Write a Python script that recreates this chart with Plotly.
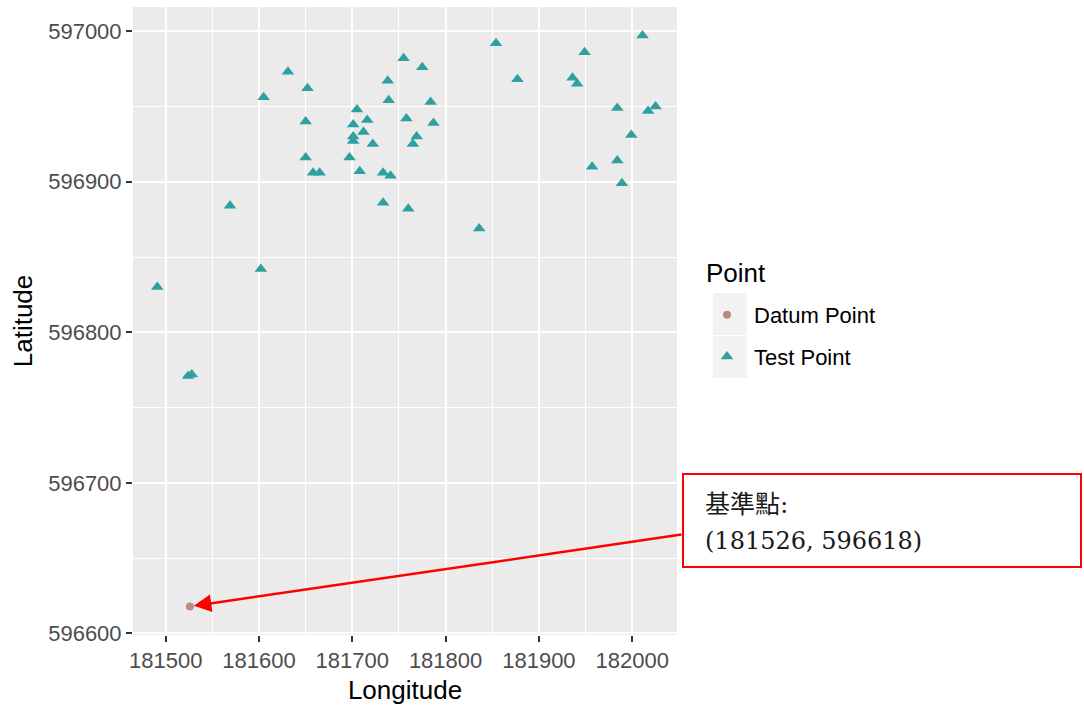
import plotly.graph_objects as go

# ---------------- data ----------------
test_lon = [181631, 181652, 181605, 181738, 181739, 181705, 181650, 181701, 181716, 181701,
            181712, 181701, 181722, 181650, 181697, 181658, 181665, 181708, 181733, 181741,
            181569, 181733, 181755, 181775, 181784, 181758, 181787, 181769, 181765, 181760,
            181836, 181854, 181877, 181949, 181936, 181941, 182011, 181984, 182017, 182025,
            181999, 181984, 181957, 181989, 181491, 181602, 181524, 181528]
test_lat = [596973, 596962, 596956, 596967, 596954, 596948, 596940, 596938, 596941, 596930,
            596933, 596927, 596925, 596916, 596916, 596906, 596906, 596907, 596906, 596904,
            596884, 596886, 596982, 596976, 596953, 596942, 596939, 596930, 596925, 596882,
            596869, 596992, 596968, 596986, 596969, 596965, 596997, 596949, 596947, 596950,
            596931, 596914, 596910, 596899, 596830, 596842, 596771, 596772]
datum_lon = [181526]
datum_lat = [596618]

x_ticks = [181500, 181600, 181700, 181800, 181900, 182000]
y_ticks = [596600, 596700, 596800, 596900, 597000]

W, H = 1084, 711
ML, MR, MT, MB = 133, 407, 7, 76
PW, PH = W - ML - MR, H - MT - MB

def px(xp):
    return (xp - ML) / PW

def py(yp):
    return (H - MB - yp) / PH

TEAL = "#2fa0a0"
ROSE = "#bf8884"
GRAY30 = "#4d4d4d"
SANS = "Liberation Sans, Arial, sans-serif"

fig = go.Figure()
fig.add_trace(go.Scatter(
    x=datum_lon, y=datum_lat, mode="markers", name="Datum Point",
    legendgroup="a",
    marker=dict(symbol="circle", size=8, color=ROSE),
))
fig.add_trace(go.Scatter(
    x=test_lon, y=test_lat, mode="markers", name="Test Point",
    legendgroup="b",
    marker=dict(symbol="triangle-up", size=11, color=TEAL),
))

axis_common = dict(
    showgrid=True, gridcolor="white", gridwidth=1.6,
    zeroline=False, showline=False,
    ticks="outside", ticklen=6, tickwidth=1.5, tickcolor="#333333",
    tickfont=dict(family=SANS, size=22, color=GRAY30),
    minor=dict(showgrid=True, gridcolor="white", gridwidth=0.8, ticks=""),
)

fig.update_xaxes(
    **axis_common, range=[181465, 182048],
    tickvals=x_ticks, ticktext=[str(v) for v in x_ticks],
    title=dict(text="Longitude", standoff=8, font=dict(family=SANS, size=26, color="black")),
)
fig.update_xaxes(minor=dict(dtick=50, tick0=181450))
fig.update_yaxes(
    **axis_common, range=[596599, 597016],
    tickvals=y_ticks, ticktext=[str(v) for v in y_ticks],
    title=dict(text="Latitude", standoff=8, font=dict(family=SANS, size=26, color="black")),
)
fig.update_yaxes(minor=dict(dtick=50, tick0=596550))

shapes = []
# legend key backgrounds
shapes.append(dict(type="rect", xref="paper", yref="paper",
                   x0=px(713), x1=px(747), y0=py(293), y1=py(335),
                   fillcolor="#f2f2f2", line=dict(width=0), layer="below"))
shapes.append(dict(type="rect", xref="paper", yref="paper",
                   x0=px(713), x1=px(747), y0=py(336), y1=py(378),
                   fillcolor="#f2f2f2", line=dict(width=0), layer="below"))
# callout box
shapes.append(dict(type="rect", xref="paper", yref="paper",
                   x0=px(683), x1=px(1081), y0=py(474), y1=py(567),
                   fillcolor="white", line=dict(color="#ff0000", width=2), layer="above"))

annotations = [
    dict(xref="paper", yref="paper", x=px(704), y=py(273), xanchor="left", yanchor="middle",
         text="Point", showarrow=False, font=dict(family=SANS, size=26, color="black")),
    dict(xref="paper", yref="paper", x=px(703), y=py(504), xanchor="left", yanchor="middle",
         text="基準點:", showarrow=False,
         font=dict(family="DejaVu Serif, Noto Sans CJK TC, serif", size=25, color="#1a1a1a")),
    dict(xref="paper", yref="paper", x=px(703), y=py(541), xanchor="left", yanchor="middle",
         text=f"({datum_lon[0]}, {datum_lat[0]})", showarrow=False,
         font=dict(family="DejaVu Serif, serif", size=24, color="#1a1a1a")),
    dict(x=datum_lon[0], y=datum_lat[0], xref="x", yref="y", text="",
         showarrow=True, ax=493, ay=-72, arrowcolor="#ff0000", arrowwidth=2.5,
         arrowhead=2, arrowsize=1.4, standoff=4),
]

fig.update_layout(
    width=W, height=H,
    margin=dict(l=ML, r=MR, t=MT, b=MB, pad=0),
    paper_bgcolor="white", plot_bgcolor="#ebebeb",
    shapes=shapes, annotations=annotations,
    legend=dict(
        font=dict(family=SANS, size=22, color="black"),
        xref="container", yref="container",
        x=700 / W, y=1 - 294 / H, xanchor="left", yanchor="top",
        bgcolor="rgba(0,0,0,0)", tracegroupgap=10, itemwidth=44,
    ),
    showlegend=True,
)

fig.write_html("out.html")
